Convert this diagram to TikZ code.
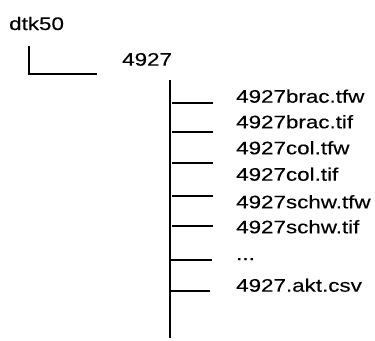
\documentclass[tikz,border=0pt]{standalone}
\usepackage{fontspec}
\setmainfont{Liberation Sans}[FakeStretch=1.23,FakeBold=0.2]
\begin{document}
\begin{tikzpicture}[x=1bp,y=1bp,
  lbl/.style={anchor=base west,inner sep=0pt,font=\fontsize{18.2bp}{20bp}\selectfont},
  conn/.style={line width=2bp}]
\useasboundingbox (0,0) rectangle (375,-341);
\node[lbl] (root) at (9,-30) {dtk50};
\node[lbl] (sub) at (122,-65.7) {4927};
\coordinate (a1) at (28.5,-46);
\coordinate (a2) at (28.5,-73.5);
\coordinate (a3) at (97,-73.5);
\draw[conn] (a1) -- (a2) -- (a3);
\coordinate (v1) at (169.5,-80);
\coordinate (v2) at (169.5,-338);
\draw[conn] (v1) -- (v2);
\node[lbl] (f1) at (236,-102.7) {4927brac.tfw};
\node[lbl] (f2) at (236,-128.3) {4927brac.tif};
\node[lbl] (f3) at (236,-154.3) {4927col.tfw};
\node[lbl] (f4) at (236,-180.7) {4927col.tif};
\node[lbl] (f5) at (236,-208.3) {4927schw.tfw};
\node[lbl] (f6) at (236,-233.3) {4927schw.tif};
\node[lbl] (f7) at (236,-260) {...};
\node[lbl] (f8) at (236,-291.7) {4927.akt.csv};
\foreach \y/\xa/\xb [count=\i] in {102.5/172/212.5,131.5/172/212.5,162.5/172/212.5,195.5/172/212.5,225.5/172/212.5,259.5/171/212,290.5/169.5/210}{
  \coordinate (h\i a) at (\xa,-\y);
  \coordinate (h\i b) at (\xb,-\y);
  \draw[conn] (h\i a) -- (h\i b);
}
\end{tikzpicture}
\end{document}
